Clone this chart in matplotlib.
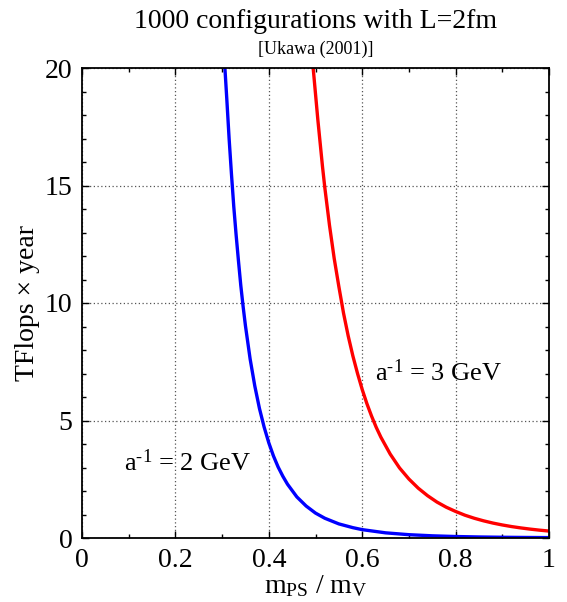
import matplotlib
matplotlib.use("Agg")
import matplotlib.pyplot as plt
from matplotlib.ticker import MultipleLocator

plt.rcParams['font.family'] = ['Liberation Serif', 'DejaVu Serif']
plt.rcParams['mathtext.fontset'] = 'custom'
plt.rcParams['mathtext.rm'] = 'Liberation Serif'
plt.rcParams['mathtext.it'] = 'Liberation Serif'

# a^-1 = 2 GeV (blue)
x_2gev = [0.306, 0.31, 0.315, 0.32, 0.325, 0.33, 0.335, 0.34, 0.345, 0.35,
          0.36, 0.37, 0.38, 0.39, 0.40, 0.41, 0.42, 0.43, 0.44, 0.46, 0.48,
          0.50, 0.52, 0.55, 0.58, 0.60, 0.65, 0.70, 0.75, 0.80, 0.85, 0.90,
          0.95, 1.00]
y_2gev = [20.0, 18.7, 17.0, 15.5, 14.1, 12.9, 11.8, 10.75, 9.85, 9.03,
          7.62, 6.47, 5.51, 4.72, 4.05, 3.49, 3.02, 2.63, 2.29, 1.75, 1.36,
          1.06, 0.84, 0.60, 0.44, 0.356, 0.22, 0.141, 0.093, 0.063, 0.044, 0.031,
          0.023, 0.017]

# a^-1 = 3 GeV (red)
x_3gev = [0.495, 0.50, 0.505, 0.51, 0.515, 0.52, 0.525, 0.53, 0.54, 0.55,
          0.56, 0.57, 0.58, 0.59, 0.60, 0.61, 0.62, 0.63, 0.64, 0.66, 0.68,
          0.70, 0.72, 0.74, 0.76, 0.78, 0.80, 0.82, 0.84, 0.86, 0.88, 0.90,
          0.92, 0.94, 0.96, 0.98, 1.00]
y_3gev = [20.0, 18.9, 17.8, 16.8, 15.8, 14.9, 14.1, 13.3, 11.9, 10.7,
          9.57, 8.60, 7.75, 7.00, 6.32, 5.72, 5.19, 4.71, 4.29, 3.57, 2.98,
          2.51, 2.12, 1.80, 1.53, 1.31, 1.13, 0.97, 0.84, 0.73, 0.635, 0.555,
          0.486, 0.428, 0.377, 0.333, 0.295]

fig = plt.figure(figsize=(5.67, 6.02), dpi=100)
ax = fig.add_axes([82/567, 1 - 538/602, 467/567, 470/602])

ax.plot(x_2gev, y_2gev, color='#0000ff', lw=2.4, solid_joinstyle='round')
ax.plot(x_3gev, y_3gev, color='#ff0000', lw=2.4, solid_joinstyle='round')

ax.set_xlim(0, 1)
ax.set_ylim(0, 20)
ax.xaxis.set_minor_locator(MultipleLocator(0.1))
ax.yaxis.set_minor_locator(MultipleLocator(1))
ax.set_xticks([0, 0.2, 0.4, 0.6, 0.8, 1.0])
ax.set_xticklabels(['0', '0.2', '0.4', '0.6', '0.8', '1'])
ax.set_yticks([0, 5, 10, 15, 20])
ax.set_yticklabels(['0', '5', '10', '15', '20'])

ax.tick_params(which='both', direction='in', top=True, right=True, labelsize=20, width=1)
ax.tick_params(which='major', length=5)
ax.tick_params(axis='x', which='major', pad=7)
ax.tick_params(axis='y', which='major', pad=7)
ax.tick_params(which='minor', length=3)
ax.grid(True, which='major', linestyle=(0, (1, 2)), color='#555555', lw=0.9)
for s in ax.spines.values():
    s.set_linewidth(1.3)

ax.set_xlabel(r'm$_{\mathrm{PS}}$ / m$_{\mathrm{V}}$', fontsize=20, labelpad=0)
ax.set_ylabel('TFlops × year', fontsize=20, labelpad=3)

fig.text(316/567, 1 - 22/602, '1000 configurations with L=2fm', ha='center', va='center', fontsize=20)
fig.text(316/567, 1 - 49/602, '[Ukawa (2001)]', ha='center', va='center', fontsize=13)

ax.text(0.627, 7.05, r'a$^{\text{-1}}$ = 3 GeV', fontsize=19, ha='left', va='center')
ax.text(0.09, 3.2, r'a$^{\text{-1}}$ = 2 GeV', fontsize=19, ha='left', va='center')

fig.savefig('out.png', dpi=100)
